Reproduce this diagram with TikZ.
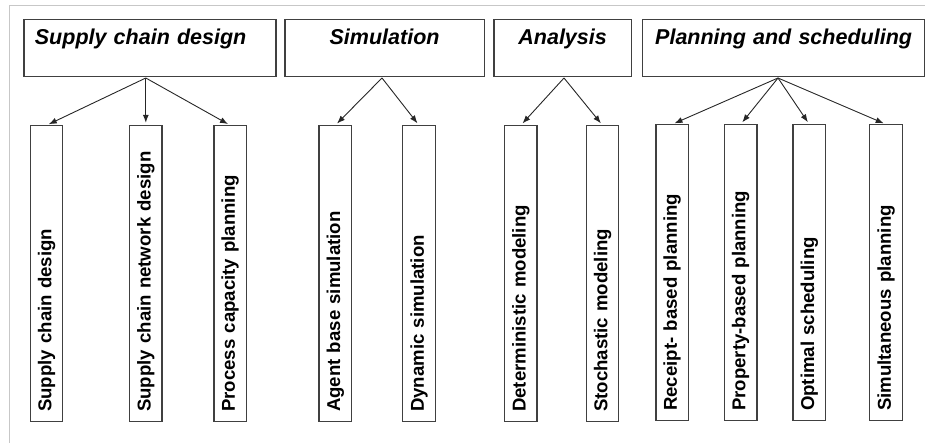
\documentclass[tikz,border=0pt]{standalone}
\usepackage{fontspec}
\setmainfont{Liberation Sans}
\usetikzlibrary{arrows.meta}

\begin{document}
\begin{tikzpicture}[x=1pt, y=-1pt,
    cadre/.style={draw=black!22, line width=1pt},
    titre/.style={draw=black!75, line width=1.2pt, anchor=north west, inner xsep=4pt, inner ysep=3pt,
        text height=22pt, text depth=29pt, align=center, font=\fontsize{21.5}{24}\selectfont\bfseries\itshape},
    feuille/.style={draw=black!75, line width=1.2pt, rotate=90, anchor=west, minimum height=32.5pt,
        text width=276.5pt, inner xsep=9.5pt, inner ysep=0pt, align=left, font=\fontsize{18.6}{20}\selectfont\bfseries},
    fleche/.style={-{Latex[length=8pt,width=6pt]}, draw=black!85, line width=0.9pt, shorten >=2.5pt}]
    \useasboundingbox (0,0) rectangle (925,443);

    % Cadre gris clair autour de la figure
    \draw[cadre] (9.5,443) -- (9.5,6) -- (925,6);

    % Les quatre boites du haut
    \node[titre, text width=230pt, align=left, inner xsep=11pt] (conception) at (23.3,19.3) {Supply chain design};
    \node[titre, text width=191.4pt] (simulation) at (284.3,19.3) {Simulation};
    \node[titre, text width=129.4pt] (analyse) at (493.3,19.3) {Analysis};
    \node[titre, text width=274.6pt] (planification) at (641.7,19.3) {Planning and scheduling};

    % Points de depart des fleches
    \coordinate (depconception) at (145.8,78);
    \coordinate (depsimulation) at (382,78);
    \coordinate (depanalyse) at (564,78);
    \coordinate (depplanification) at (778,78);

    % Les boites verticales du bas
    \node[feuille] (scdesign) at (46.5,422) {Supply chain design};
    \node[feuille] (scnetwork) at (145.8,422) {Supply chain network design};
    \node[feuille] (capacity) at (230.2,422) {Process capacity planning};
    \node[feuille] (agent) at (335.3,422) {Agent base simulation};
    \node[feuille] (dynamic) at (419,422) {Dynamic simulation};
    \node[feuille] (determ) at (520.8,422) {Deterministic modeling};
    \node[feuille] (stoch) at (602.5,422) {Stochastic modeling};
    \node[feuille] (receipt) at (672.2,421) {Receipt- based planning};
    \node[feuille] (property) at (740.7,421) {Property-based planning};
    \node[feuille] (optimal) at (809.3,421) {Optimal scheduling};
    \node[feuille] (simult) at (886,421) {Simultaneous planning};

    % Fleches vers les boites du bas
    \draw[fleche] (depconception) -- (scdesign.east);
    \draw[fleche] (depconception) -- (scnetwork.east);
    \draw[fleche] (depconception) -- (capacity.east);
    \draw[fleche] (depsimulation) -- (agent.east);
    \draw[fleche] (depsimulation) -- (dynamic.east);
    \draw[fleche] (depanalyse) -- (determ.east);
    \draw[fleche] (depanalyse) -- (stoch.east);
    \draw[fleche] (depplanification) -- (receipt.east);
    \draw[fleche] (depplanification) -- (property.east);
    \draw[fleche] (depplanification) -- (optimal.east);
    \draw[fleche] (depplanification) -- (simult.east);
\end{tikzpicture}
\end{document}
